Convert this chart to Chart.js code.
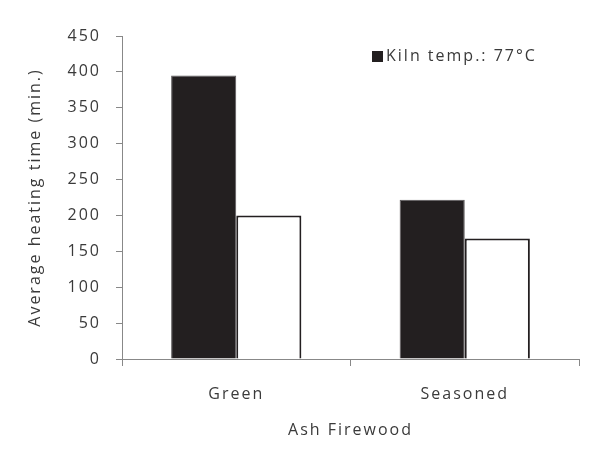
<!DOCTYPE html>
<html>
<head>
<meta charset="utf-8">
<title>Ash Firewood heating time</title>
<script src="https://cdn.jsdelivr.net/npm/chart.js@4/dist/chart.umd.min.js"></script>
<style>
    html, body {
        margin: 0;
        padding: 0;
        background: #ffffff;
    }
    #wrap {
        position: relative;
        width: 613px;
        height: 461px;
    }
    #legend {
        position: absolute;
        left: 372px;
        top: 45px;
        font-family: "Open Sans", sans-serif;
        font-size: 16px;
        letter-spacing: 2px;
        color: #3a3a3a;
        line-height: 20px;
        white-space: nowrap;
    }
    #legend .swatch {
        display: inline-block;
        width: 11px;
        height: 11px;
        background: #231f20;
        margin-right: 3px;
        vertical-align: -1px;
    }
</style>
</head>
<body>
<div id="wrap">
    <canvas id="heatChart" width="613" height="461"></canvas>
    <div id="legend"><span class="swatch"></span>Kiln temp.: 77°C</div>
</div>
<script>
// 木柴状态
const categories = ['Green', 'Seasoned'];
// 窑温 77°C 下的平均加热时间 (min.)
const kilnValues = [395, 222];
// 对照组 (白色柱)
const otherValues = [200, 168];
// y 轴刻度
const yTicks = [0, 50, 100, 150, 200, 250, 300, 350, 400, 450];

const textColor = '#3a3a3a';
const axisColor = '#888888';
const fontFamily = '"Open Sans", sans-serif';

/** 字间距插件：画布每次重置后重新设置 letterSpacing */
const letterSpacingPlugin = {
    id: 'letterSpacing',
    beforeLayout(chart) {
        chart.ctx.letterSpacing = '2px';
    },
    beforeDraw(chart) {
        chart.ctx.letterSpacing = '2px';
    }
};

const ctx = document.getElementById('heatChart');

new Chart(ctx, {
    type: 'bar',
    data: {
        labels: categories,
        datasets: [
            {
                label: 'Kiln temp.: 77°C',
                data: kilnValues,
                backgroundColor: '#231f20',
                borderColor: '#5a5758',
                borderWidth: 1,
                borderSkipped: 'start'
            },
            {
                label: 'Other',
                data: otherValues,
                backgroundColor: '#ffffff',
                borderColor: '#231f20',
                borderWidth: 2,
                borderSkipped: 'start'
            }
        ]
    },
    options: {
        responsive: false,
        animation: false,
        layout: {
            padding: { left: 24, right: 34, top: 36, bottom: 12 }
        },
        datasets: {
            bar: {
                categoryPercentage: 0.57,
                barPercentage: 1
            }
        },
        scales: {
            x: {
                afterFit(scale) {
                    scale.height = 90;
                },
                grid: {
                    display: true,
                    drawOnChartArea: false,
                    drawTicks: true,
                    tickLength: 7,
                    tickColor: axisColor,
                    offset: true
                },
                border: {
                    display: true,
                    color: axisColor,
                    width: 1
                },
                ticks: {
                    color: textColor,
                    padding: 19,
                    font: { family: fontFamily, size: 16 }
                },
                title: {
                    display: true,
                    text: 'Ash Firewood',
                    color: textColor,
                    padding: { top: 0, bottom: 9 },
                    font: { family: fontFamily, size: 16 }
                }
            },
            y: {
                min: 0,
                max: 450,
                afterFit(scale) {
                    scale.width = 98;
                },
                afterBuildTicks(scale) {
                    scale.ticks = yTicks.map(v => ({ value: v }));
                },
                grid: {
                    display: true,
                    drawOnChartArea: false,
                    drawTicks: true,
                    tickLength: 6,
                    tickColor: axisColor
                },
                border: {
                    display: true,
                    color: axisColor,
                    width: 1
                },
                ticks: {
                    color: textColor,
                    padding: 15,
                    font: { family: fontFamily, size: 16 }
                },
                title: {
                    display: true,
                    text: 'Average heating time (min.)',
                    color: textColor,
                    padding: { top: 2, bottom: 0 },
                    font: { family: fontFamily, size: 16 }
                }
            }
        },
        plugins: {
            legend: { display: false },
            tooltip: { enabled: false }
        }
    },
    plugins: [letterSpacingPlugin]
});
</script>
</body>
</html>
